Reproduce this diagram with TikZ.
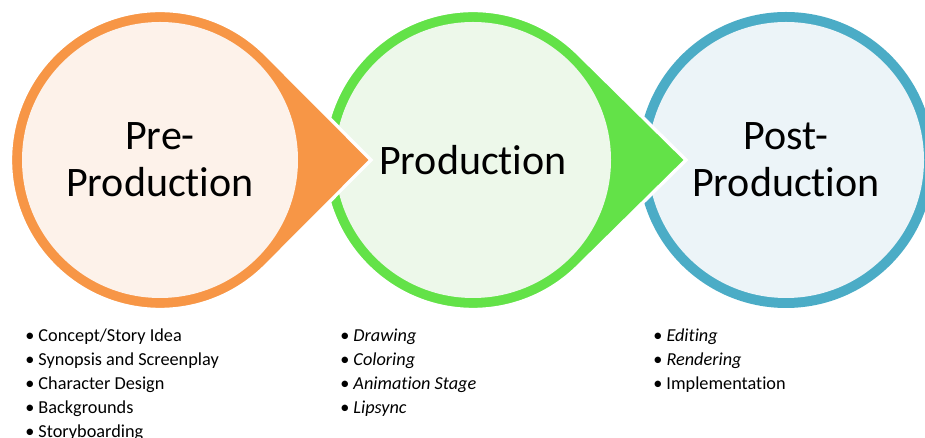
\documentclass[tikz,border=0pt]{standalone}
\usepackage{fontspec}
\setmainfont[Ligatures=NoCommon]{Carlito}
\usepackage{tikz}
\usetikzlibrary{calc}
\definecolor{preorange}{RGB}{247,150,70}
\definecolor{prelight}{RGB}{253,242,234}
\definecolor{prodgreen}{RGB}{99,226,72}
\definecolor{prodlight}{RGB}{237,248,234}
\definecolor{postblue}{RGB}{75,172,198}
\definecolor{postlight}{RGB}{236,244,248}

\tikzset{
    stage/.style={circle, minimum size=207pt, inner sep=0pt, align=center,
        font=\fontsize{31.5}{35}\selectfont},
    drop/.style={draw=white, line width=2.5pt},
    tasks/.style={anchor=north west, inner sep=0pt, align=left,
        font=\fontsize{13.7}{18}\selectfont}
}

\begin{document}
\begin{tikzpicture}[x=0.75pt, y=0.75pt]
    \clip (0,0) rectangle (925,438);
    \coordinate (c1) at (160,278);
    \coordinate (c2) at (473,278);
    \coordinate (c3) at (786,278);

    % stages, drawn right to left so each pointer sits on the next circle
    \fill[postblue] (c3) circle (148);
    \node[stage, fill=postlight] (post) at (c3) {Post-\\Production};

    \filldraw[drop, fill=prodgreen] ($(c2)+(213,0)$) -- ($(c2)+(45:149.5)$)
        arc[start angle=45, end angle=315, radius=149.5] -- cycle;
    \node[stage, fill=prodlight] (prod) at (c2) {Production};

    \filldraw[drop, fill=preorange] ($(c1)+(211,0)$) -- ($(c1)+(45:149.5)$)
        arc[start angle=45, end angle=315, radius=149.5] -- cycle;
    \node[stage, fill=prelight] (pre) at (c1) {Pre-\\Production};

    % what happens in each stage
    \node[tasks] (prelist) at (25,109) {\textbullet\ Concept/Story Idea\\
        \textbullet\ Synopsis and Screenplay\\
        \textbullet\ Character Design\\
        \textbullet\ Backgrounds\\
        \textbullet\ Storyboarding};
    \node[tasks] (prodlist) at (340,109) {\textbullet\ \textit{Drawing}\\
        \textbullet\ \textit{Coloring}\\
        \textbullet\ \textit{Animation Stage}\\
        \textbullet\ \textit{Lipsync}};
    \node[tasks] (postlist) at (653,109) {\textbullet\ \textit{Editing}\\
        \textbullet\ \textit{Rendering}\\
        \textbullet\ Implementation};
\end{tikzpicture}
\end{document}
